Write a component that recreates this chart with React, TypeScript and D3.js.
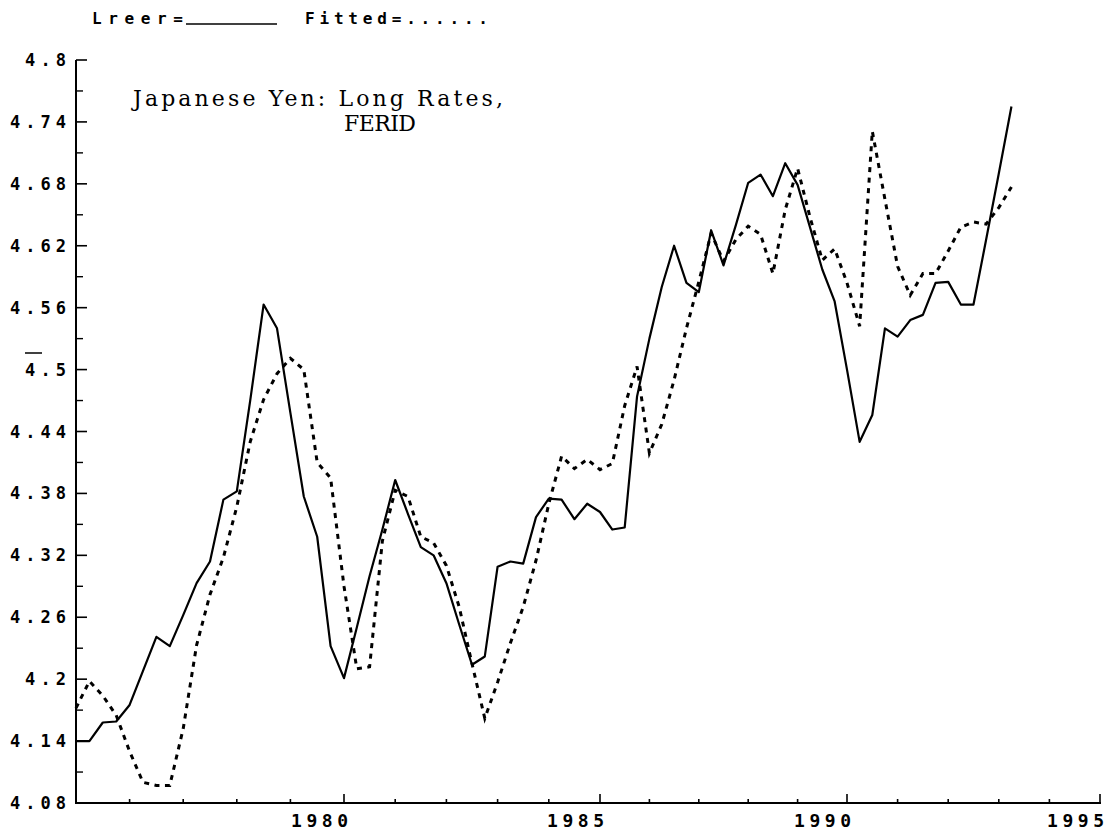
import React from "react";
import * as d3 from "d3";

const W = 1117;
const H = 834;

// quarterly observations, first one is 1975 Q1
const startYear = 1975;

const lreer = [
  4.14, 4.14, 4.158, 4.159, 4.175, 4.208, 4.241, 4.232, 4.262, 4.293,
  4.314, 4.374, 4.382, 4.47, 4.563, 4.54, 4.458, 4.377, 4.338, 4.232,
  4.201, 4.25, 4.3, 4.345, 4.393, 4.36, 4.328, 4.32, 4.293, 4.253,
  4.214, 4.222, 4.309, 4.314, 4.312, 4.357, 4.375, 4.374, 4.355, 4.37,
  4.362, 4.345, 4.347, 4.474, 4.53, 4.58, 4.62, 4.584, 4.575, 4.635,
  4.601, 4.64, 4.681, 4.689, 4.668, 4.7, 4.679, 4.638, 4.597, 4.566,
  4.5, 4.43, 4.456, 4.54, 4.532, 4.548, 4.553, 4.584, 4.585, 4.563,
  4.563, 4.626, 4.69, 4.755,
];

const fitted = [
  4.172, 4.198, 4.184, 4.165, 4.13, 4.1, 4.097, 4.097, 4.152, 4.233,
  4.282, 4.318, 4.367, 4.43, 4.471, 4.496, 4.511, 4.5, 4.41, 4.395,
  4.29, 4.21, 4.212, 4.334, 4.383, 4.377, 4.338, 4.332, 4.31, 4.27,
  4.215, 4.162, 4.197, 4.235, 4.27, 4.315, 4.37, 4.416, 4.404, 4.413,
  4.403, 4.409, 4.465, 4.503, 4.419, 4.447, 4.49, 4.54, 4.585, 4.632,
  4.605, 4.626, 4.639, 4.631, 4.593, 4.655, 4.695, 4.648, 4.606, 4.617,
  4.584, 4.542, 4.731, 4.665, 4.6, 4.572, 4.593, 4.593, 4.615, 4.638,
  4.643, 4.641, 4.657, 4.677,
];

const yTickLabels = [
  "4.08", "4.14", "4.2", "4.26", "4.32", "4.38", "4.44",
  "4.5", "4.56", "4.62", "4.68", "4.74", "4.8",
];
const xTickLabels = ["1980", "1985", "1990", "1995"];
const xYears = d3.range(1975, 1996);

// the scan is slightly stretched on the left, so the year scale is piecewise
const x = d3
  .scaleLinear()
  .domain([1975, 1980, 1985, 1990, 1995])
  .range([76, 344, 600, 847, 1100]);
const y = d3.scaleLinear().domain([4.08, 4.8]).range([803, 60]);

const line = d3
  .line<number>()
  .x((_, i) => x(startYear + i / 4))
  .y((d) => y(d));

const labelFont = "'DejaVu Sans Mono', 'Liberation Mono', monospace";
const titleFont = "'DejaVu Serif', 'Liberation Serif', serif";

export default function App() {
  const yVals = yTickLabels.map(Number);
  const yMinor = yVals.slice(1).map((v, i) => (v + yVals[i]) / 2);
  const x0 = x(1975);
  const x1 = x(1995);

  return (
    <div style={{ position: "absolute", left: 0, top: 0 }}>
      <svg width={W} height={H} style={{ display: "block", background: "#fff" }}>
        <rect width={W} height={H} fill="#fff" />

        {/* legend */}
        <g fontFamily={labelFont} fontWeight="bold" fontSize={16} fill="#000">
          <text x={92} y={24} textLength={91} lengthAdjust="spacing">
            Lreer=
          </text>
          <line x1={186} x2={277} y1={24} y2={24} stroke="#000" strokeWidth={1.6} />
          <text x={305} y={24} textLength={183} lengthAdjust="spacing">
            Fitted=......
          </text>
        </g>

        {/* title */}
        <g fontFamily={titleFont} fontSize={22} fill="#000">
          <text x={133} y={106} textLength={370} lengthAdjust="spacing">
            Japanese Yen: Long Rates,
          </text>
          <text x={344} y={131} textLength={72} lengthAdjust="spacing">
            FERID
          </text>
        </g>

        {/* axes */}
        <g stroke="#000" strokeWidth={2} fill="none">
          <line x1={x0} x2={x0} y1={y(4.8)} y2={y(4.08) + 1} />
          <line x1={x0} x2={x1 + 1} y1={y(4.08)} y2={y(4.08)} />
          {yVals.map((v) => (
            <line key={"ym" + v} x1={x0} x2={x0 + 11} y1={y(v)} y2={y(v)} strokeWidth={1.6} />
          ))}
          {yMinor.map((v) => (
            <line key={"yn" + v} x1={x0} x2={x0 + 7} y1={y(v)} y2={y(v)} strokeWidth={1.4} />
          ))}
          {xYears.map((yr) => {
            const major = yr % 5 === 0 && yr !== 1975;
            return (
              <line
                key={"xt" + yr}
                x1={x(yr)}
                x2={x(yr)}
                y1={y(4.08)}
                y2={y(4.08) - (major ? 9 : 4)}
                strokeWidth={1.6}
              />
            );
          })}
        </g>

        {/* tick labels */}
        <g fontFamily={labelFont} fontWeight="bold" fontSize={17} fill="#000">
          {yTickLabels.map((t) => (
            <text
              key={"yl" + t}
              x={66 - ((t.length - 1) * 15 + 11)}
              y={y(+t) + 6}
              textLength={(t.length - 1) * 15 + 11}
              lengthAdjust="spacing"
            >
              {t}
            </text>
          ))}
          <line x1={25} x2={42} y1={353} y2={353} stroke="#000" strokeWidth={1.5} />
        </g>
        <g fontFamily={labelFont} fontWeight="bold" fontSize={18} fill="#000">
          {xTickLabels.map((t) => (
            <text
              key={"xl" + t}
              x={x(+t) + 4 - 57}
              y={827}
              textLength={57}
              lengthAdjust="spacing"
            >
              {t}
            </text>
          ))}
        </g>

        {/* series */}
        <path d={line(lreer) ?? ""} fill="none" stroke="#000" strokeWidth={2.2} strokeLinejoin="round" />
        <path
          d={line(fitted) ?? ""}
          fill="none"
          stroke="#000"
          strokeWidth={3}
          strokeDasharray="5 5.5"
        />
      </svg>
    </div>
  );
}
